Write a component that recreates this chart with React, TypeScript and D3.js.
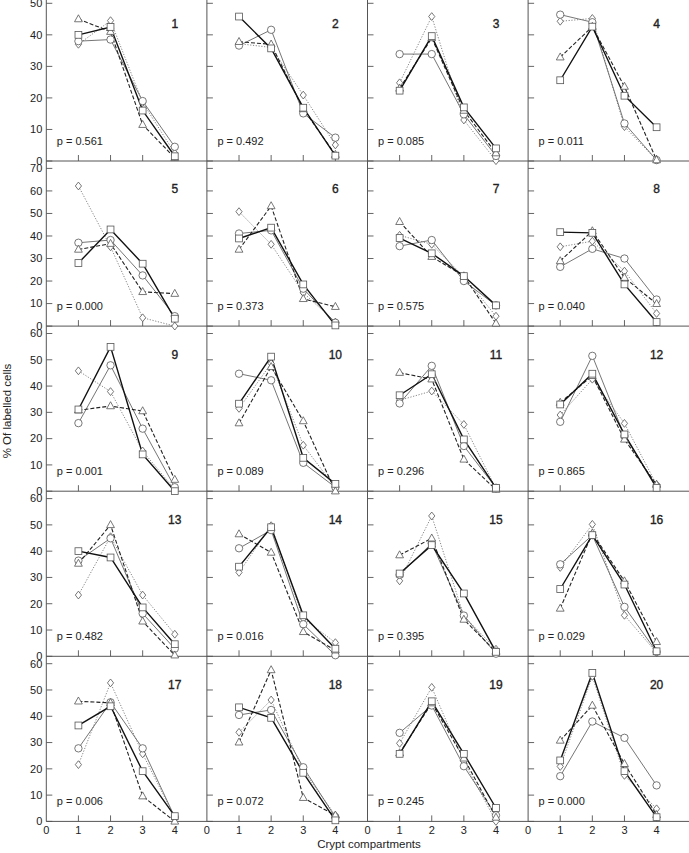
import * as d3 from 'd3';

// values per panel, x = 1..4 (crypt compartments)
const squareSeries: number[][] = [
  [40, 42.5, 16, 1.5], [45.8, 35.7, 16.9, 1.7], [22.3, 39.6, 17, 4], [25.6, 42.6, 20.7, 10.7],
  [28, 42.9, 27.7, 3.3], [38.9, 43.7, 18.5, 0.3], [39.1, 32.3, 22.2, 9.2], [41.7, 41.4, 18.5, 1.8],
  [31.1, 54.9, 14, 0], [33.3, 51.2, 12.7, 2.8], [36.5, 44.5, 19.7, 1.3], [33, 44.7, 21.6, 1.3],
  [40, 37.6, 18.6, 4.6], [34.1, 49.1, 15.6, 2.9], [31.5, 42.3, 23.9, 1.7], [25.6, 46.1, 27.3, 1.9],
  [36.5, 43.8, 19.1, 2], [43.4, 39.4, 18.5, 0.4], [25.7, 45.7, 25.7, 5.1], [23.2, 56.5, 19.1, 1.6],
];
const circleSeries: number[][] = [
  [38, 38.5, 19, 4.5], [36.6, 41.6, 15.1, 7.4], [33.9, 33.9, 14.8, 1.6], [46.4, 44, 11.9, 0.3],
  [37, 38.2, 22.5, 4.4], [41.1, 42.5, 16.6, 1.5], [35.5, 38.2, 20, 9.2], [26.3, 34.3, 30, 11.8],
  [25.9, 47.9, 23.8, 1.5], [44.7, 42.2, 10.8, 1.5], [33.4, 47.7, 17.2, 1.3], [26.4, 51.5, 21, 1.9],
  [36.4, 44.9, 16.3, 2.9], [41.1, 48, 12.2, 0.4], [31, 43, 15.5, 1], [35, 46.1, 18.8, 1.7],
  [27.8, 45.3, 27.8, 1.6], [40.5, 42.4, 20.6, 1.6], [33.7, 44.1, 21, 2.3], [17.2, 38, 31.8, 13.7],
];
const triangleSeries: number[][] = [
  [45, 41, 11.5, 1], [37.8, 37, 16.5, 2], [23, 39, 16, 2.5], [32.9, 42.6, 23.6, 0.3],
  [34, 36.6, 15.2, 14.4], [34, 53.3, 12.1, 8.6], [46.3, 30.8, 22.2, 1.2], [28.9, 42.2, 21.5, 9.9],
  [30.8, 32.4, 30.5, 4.4], [25.9, 47.3, 26.7, 0], [45.1, 42.6, 12.1, 0.6], [33.7, 43.9, 19.7, 2.5],
  [35.3, 50, 13.3, 0.4], [46.5, 39.5, 9.3, 2.3], [38.5, 44.9, 14, 1.7], [18.2, 46.8, 28.6, 5.5],
  [45.7, 45.1, 9.6, 0], [30.1, 57.6, 9, 2.3], [26, 45, 24, 1.5], [30.8, 44.1, 21.9, 2.5],
];
const diamondSeries: number[][] = [
  [37, 44.5, 18.5, 2.5], [37.2, 36, 20.9, 5.1], [24.8, 45.8, 13, 0.1], [44.3, 45.2, 10.9, 0.3],
  [62.2, 35.2, 3.7, 0], [50.8, 36.3, 14.8, 1.8], [40.3, 36.3, 21.9, 4.4], [35.2, 37.7, 24.4, 5.6],
  [45.8, 37.9, 15.3, 0.6], [31.5, 48.6, 17.5, 1.3], [34.6, 38.1, 25.4, 1], [29, 42.6, 25.8, 2.5],
  [23.3, 45.5, 23.3, 8.4], [31.9, 49.7, 14.4, 5.2], [28.7, 53.4, 15.3, 2.7], [33.8, 50.2, 15.6, 1.4],
  [21.6, 52.7, 25.7, 1.6], [33.9, 46.2, 19.4, 2.3], [29.7, 51, 22.8, 0], [20.9, 55.2, 17.5, 4.8],
];
const pValues = ['0.561', '0.492', '0.085', '0.011', '0.000', '0.373', '0.575', '0.040', '0.001', '0.089',
  '0.296', '0.865', '0.482', '0.016', '0.395', '0.029', '0.006', '0.072', '0.245', '0.000'];
const rowMax = [50, 70, 60, 60, 60];
const compartments = [1, 2, 3, 4];
const xTicks = [0, 1, 2, 3, 4];

const W = 689;
const H = 853;
const left0 = 46.3;
const colW = 160.6;
const base0 = 161;
const rowH = 165.1;
const plotH = 157.7;
const font = '"Liberation Sans", Arial, Helvetica, sans-serif';
const ink = '#222';

type Kind = 'square' | 'circle' | 'triangle' | 'diamond';

const seriesDefs: { kind: Kind; data: number[][]; stroke: string; width: number; dash?: string }[] = [
  { kind: 'diamond', data: diamondSeries, stroke: '#666', width: 0.8, dash: '1.2,1.6' },
  { kind: 'circle', data: circleSeries, stroke: '#666', width: 0.9 },
  { kind: 'triangle', data: triangleSeries, stroke: '#222', width: 1.1, dash: '4,2' },
  { kind: 'square', data: squareSeries, stroke: '#111', width: 1.4 },
];

const Marker = ({ kind, x, y }: { kind: Kind; x: number; y: number }) => {
  const st = { fill: '#fff', stroke: '#555', strokeWidth: 0.8 };
  if (kind === 'square') return <rect x={x - 3.4} y={y - 3.4} width={6.8} height={6.8} {...st} />;
  if (kind === 'circle') return <circle cx={x} cy={y} r={3.7} {...st} />;
  if (kind === 'triangle')
    return <path d={`M${x},${y - 4.3}L${x + 3.9},${y + 2.7}L${x - 3.9},${y + 2.7}Z`} {...st} />;
  return <path d={`M${x},${y - 3.9}L${x + 3.1},${y}L${x},${y + 3.9}L${x - 3.1},${y}Z`} {...st} />;
};

const Panel = ({ idx }: { idx: number }) => {
  const r = Math.floor(idx / 4);
  const c = idx % 4;
  const left = left0 + c * colW;
  const base = base0 + r * rowH;
  const x = d3.scaleLinear().domain([0, 5]).range([left, left + colW]);
  const y = d3.scaleLinear().domain([0, rowMax[r]]).range([base, base - plotH]);
  const yTicks = d3.range(0, rowMax[r] + 1, 10);
  const line = d3.line<number>().x((_, i) => x(compartments[i])).y((v) => y(v));

  return (
    <g>
      {yTicks.map((t) => (
        <line key={'yt' + t} x1={left} x2={left + 6} y1={y(t)} y2={y(t)} stroke="#555" strokeWidth={0.9} />
      ))}
      {compartments.map((t) => (
        <line key={'xt' + t} x1={x(t)} x2={x(t)} y1={base} y2={base - 6} stroke="#555" strokeWidth={0.9} />
      ))}
      {c === 0 &&
        yTicks.map((t) => (
          <text key={'yl' + t} x={left - 4} y={y(t)} dy="0.35em" textAnchor="end" fontSize={11} fill={ink}>
            {t}
          </text>
        ))}
      {r === 4 &&
        xTicks.map((t) => (
          <text key={'xl' + t} x={x(t)} y={834} textAnchor="middle" fontSize={11} fill={ink}>
            {t}
          </text>
        ))}
      {seriesDefs.map((s) => (
        <path
          key={'l' + s.kind}
          d={line(s.data[idx]) || ''}
          fill="none"
          stroke={s.stroke}
          strokeWidth={s.width}
          strokeDasharray={s.dash}
        />
      ))}
      {seriesDefs.map((s) =>
        s.data[idx].map((v, i) => <Marker key={s.kind + i} kind={s.kind} x={x(compartments[i])} y={y(v)} />)
      )}
      <text x={x(4)} y={base - 132.7} textAnchor="middle" fontSize={12} fill={ink} stroke={ink} strokeWidth={0.35}>
        {idx + 1}
      </text>
      <text x={left + 10.5} y={base - 16.5} fontSize={11} fill={ink}>
        {`p = ${pValues[idx]}`}
      </text>
    </g>
  );
};

export default function App() {
  const bottom = base0 + 4 * rowH;
  return (
    <svg
      width={W}
      height={H}
      style={{ position: 'absolute', left: 0, top: 0, background: '#fff' }}
      fontFamily={font}
    >
      <rect width={W} height={H} fill="#fff" />
      {d3.range(5).map((r) => (
        <line key={'h' + r} x1={left0} x2={W} y1={base0 + r * rowH} y2={base0 + r * rowH} stroke="#555" strokeWidth={1} />
      ))}
      {d3.range(4).map((c) => (
        <line key={'v' + c} x1={left0 + c * colW} x2={left0 + c * colW} y1={0} y2={bottom} stroke="#555" strokeWidth={1} />
      ))}
      {d3.range(20).map((i) => (
        <Panel key={i} idx={i} />
      ))}
      <text x={369} y={848} textAnchor="middle" fontSize={11.5} fill={ink}>
        Crypt compartments
      </text>
      <text transform="translate(11,411) rotate(-90)" textAnchor="middle" fontSize={11.5} fill={ink}>
        % Of labelled cells
      </text>
    </svg>
  );
}
